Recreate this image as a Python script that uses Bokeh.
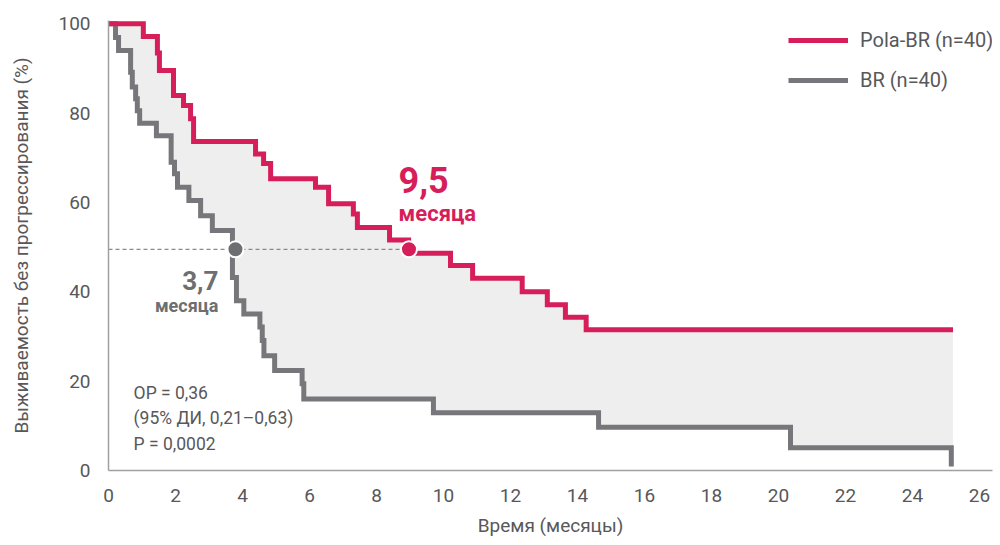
import numpy as np
from bokeh.plotting import figure
from bokeh.models import Range1d, FixedTicker, Label, Legend, LegendItem, Title
from bokeh.embed import file_html
from bokeh.resources import INLINE

# ---- data (months, % progression-free) ----
pola_months = [0, 1.04, 1.46, 1.52, 1.94, 2.24, 2.45, 2.54, 4.39, 4.63, 4.84, 6.18,
               6.57, 7.31, 7.43, 8.39, 8.96, 10.21, 10.87, 12.35, 13.10, 13.64, 14.26, 25.21]
pola_surv = [100, 97.1, 93.4, 89.5, 83.9, 81.7, 78.7, 73.6, 70.8, 68.7, 65.3, 63.4,
             59.7, 57.4, 54.4, 51.6, 48.6, 45.9, 43.0, 40.0, 37.1, 34.3, 31.5, 31.5]

br_months = [0, 0.21, 0.30, 0.66, 0.71, 0.81, 0.86, 0.93, 1.43, 1.87, 1.97, 2.06,
             2.40, 2.75, 3.10, 3.70, 3.82, 4.04, 4.52, 4.59, 4.64, 4.96, 5.78, 5.83,
             9.70, 14.63, 20.36, 25.16]
br_surv = [100, 96.9, 94.0, 89.1, 85.8, 83.2, 80.5, 77.7, 74.9, 69.0, 66.4, 63.4,
           60.4, 57.0, 53.7, 43.2, 38.0, 35.0, 32.1, 29.1, 25.7, 22.4, 19.4, 16.0,
           12.9, 9.7, 5.1, 0.9]

median_x = [8.97, 3.79]      # Pola-BR, BR (positions of the markers on the curves)
median_y = [49.5, 49.5]
x_ticks = list(range(0, 27, 2))
y_ticks = [0, 20, 40, 60, 80, 100]

RED = "#D61E5A"
GRAY = "#77777B"
DGRAY = "#6D6E71"
TXT = "#58585A"
FONT = "Roboto"

p = figure(width=1000, height=545, output_backend="svg", toolbar_location=None,
           x_range=Range1d(0, 26.39), y_range=Range1d(0, 100.7),
           min_border_left=108, min_border_right=8, min_border_top=20, min_border_bottom=75)
p.outline_line_color = None
p.xgrid.grid_line_color = None
p.ygrid.grid_line_color = None

# filled area between curves (common step grid)
grid = np.array(sorted(set(pola_months) | set(br_months)))
def step_eval(xs, ys, g):
    idx = np.searchsorted(np.array(xs), g, side="right") - 1
    return np.array(ys)[idx]
top = step_eval(pola_months, pola_surv, grid)
bot = step_eval(br_months, br_surv, grid)
keep = grid <= max(pola_months)
p.varea_step(x=grid[keep], y1=bot[keep], y2=top[keep], step_mode="after",
             fill_color="#EEEEEE")

# dashed median line
p.segment(x0=0, y0=median_y[0], x1=median_x[0], y1=median_y[0],
          line_color="#8A8A8A", line_width=1.2, line_dash="4 3")

gray_r = p.step(br_months, br_surv, mode="after", line_color=GRAY, line_width=5,
                line_join="miter")
red_r = p.step(pola_months, pola_surv, mode="after", line_color=RED, line_width=5,
               line_join="miter")

p.scatter(x=median_x[:1], y=median_y[:1], size=16, fill_color=RED, line_color="white", line_width=2)
p.scatter(x=median_x[1:], y=median_y[1:], size=16, fill_color=DGRAY, line_color="white", line_width=2)

# legend proxies (outside visible range so only the legend glyph shows)
leg_red = p.line(x=[-10, -9], y=[-10, -10], line_color=RED, line_width=5)
leg_gray = p.line(x=[-10, -9], y=[-10, -10], line_color=GRAY, line_width=5)
legend = Legend(items=[LegendItem(label="Pola-BR (n=40)", renderers=[leg_red]),
                       LegendItem(label="BR (n=40)", renderers=[leg_gray])],
                location=(680, 378), glyph_width=60, glyph_height=24, label_height=24,
                spacing=16, padding=0, margin=0, label_standoff=12,
                border_line_color=None, background_fill_alpha=0,
                label_text_font=FONT, label_text_font_size="20px", label_text_color=TXT)
p.add_layout(legend)

# annotations
p.add_layout(Label(x=8.66, y=62.0, text="9,5", text_font=FONT, text_font_style="bold",
                   text_font_size="36px", text_color=RED))
p.add_layout(Label(x=8.66, y=54.8, text="месяца", text_font=FONT, text_font_style="bold",
                   text_font_size="22px", text_color=RED))
p.add_layout(Label(x=3.28, y=40.3, text="3,7", text_font=FONT, text_font_style="bold",
                   text_font_size="26px", text_color=DGRAY, text_align="right"))
p.add_layout(Label(x=3.28, y=34.6, text="месяца", text_font=FONT, text_font_style="bold",
                   text_font_size="18px", text_color=DGRAY, text_align="right"))
for t, yy in [("ОР = 0,36", 15.2), ("(95% ДИ, 0,21–0,63)", 9.5), ("Р = 0,0002", 3.7)]:
    p.add_layout(Label(x=0.75, y=yy, text=t, text_font=FONT, text_font_size="17.5px",
                       text_color=TXT))

# axes
for ax in (p.xaxis[0], p.yaxis[0]):
    ax.axis_line_color = "#A0A0A0"
    ax.axis_line_width = 1.5
    ax.major_tick_line_color = None
    ax.minor_tick_line_color = None
    ax.major_tick_out = 0
    ax.major_tick_in = 0
    ax.major_label_text_font = FONT
    ax.major_label_text_font_size = "19px"
    ax.major_label_text_color = TXT
    ax.axis_label_text_font = FONT
    ax.axis_label_text_font_size = "19px"
    ax.axis_label_text_font_style = "normal"
    ax.axis_label_text_color = TXT

p.xaxis.ticker = FixedTicker(ticks=x_ticks)
p.yaxis.ticker = FixedTicker(ticks=y_ticks)
p.yaxis.axis_label = "Выживаемость без прогрессирования (%)"
p.xaxis.major_label_standoff = 18
p.yaxis.major_label_standoff = 18
p.yaxis.axis_label_standoff = 22

# x-axis title, placed slightly left of the frame centre as in the reference
p.add_layout(Title(text="Время (месяцы)", align="center", offset=-17, standoff=14,
                   text_font=FONT, text_font_size="19px", text_font_style="normal",
                   text_color=TXT), "below")

open("out.html", "w").write(file_html(p, INLINE))
